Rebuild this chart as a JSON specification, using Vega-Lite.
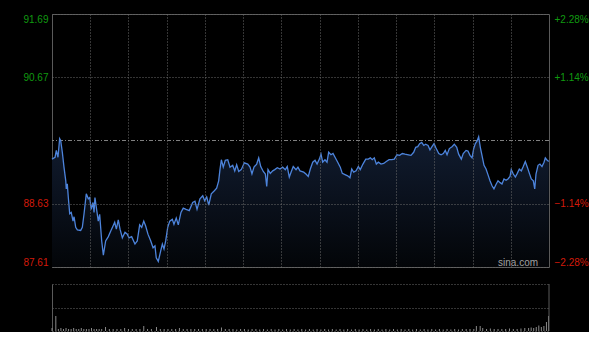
{
  "$schema": "https://vega.github.io/schema/vega-lite/v6.json",
  "background": "#000000",
  "padding": {"left": 11, "top": 13, "right": 0, "bottom": 0},
  "spacing": 14,
  "config": {
    "view": {"stroke": "#5a5a5a", "strokeWidth": 1},
    "axis": {"labelFont": "Liberation Sans", "labelFontSize": 10}
  },
  "datasets": {
    "price": [
      {"m":0,"p":89.35},{"m":2.4,"p":89.38},{"m":3.4,"p":89.49},{"m":4.7,"p":89.38},{"m":6.0,"p":89.68},{"m":6.8,"p":89.65},{"m":8.1,"p":89.46},{"m":9.4,"p":89.22},{"m":10.8,"p":89.0},{"m":11.2,"p":88.87},{"m":12.0,"p":88.95},{"m":12.8,"p":88.73},{"m":13.9,"p":88.47},{"m":15.1,"p":88.49},{"m":16.5,"p":88.35},{"m":17.3,"p":88.42},{"m":18.6,"p":88.25},{"m":19.9,"p":88.21},{"m":22.5,"p":88.2},{"m":23.8,"p":88.25},{"m":25.1,"p":88.46},{"m":26.9,"p":88.79},{"m":28.5,"p":88.71},{"m":29.6,"p":88.73},{"m":30.8,"p":88.54},{"m":32.2,"p":88.65},{"m":33.0,"p":88.49},{"m":33.7,"p":88.73},{"m":34.8,"p":88.57},{"m":36.3,"p":88.35},{"m":37.4,"p":88.46},{"m":39.0,"p":88.03},{"m":40.3,"p":87.8},{"m":42.1,"p":88.03},{"m":44.2,"p":88.1},{"m":46.1,"p":88.19},{"m":47.9,"p":88.27},{"m":49.2,"p":88.33},{"m":50.5,"p":88.22},{"m":52.0,"p":88.37},{"m":53.4,"p":88.22},{"m":55.2,"p":88.08},{"m":57.3,"p":88.17},{"m":59.1,"p":88.14},{"m":60.4,"p":88.08},{"m":62.5,"p":88.1},{"m":65.1,"p":87.98},{"m":66.9,"p":88.03},{"m":68.8,"p":88.29},{"m":70.4,"p":88.25},{"m":72.0,"p":88.35},{"m":73.5,"p":88.27},{"m":75.3,"p":88.14},{"m":77.5,"p":88.03},{"m":79.3,"p":87.92},{"m":80.8,"p":87.95},{"m":81.8,"p":87.76},{"m":83.4,"p":87.7},{"m":85.3,"p":87.87},{"m":86.6,"p":87.98},{"m":87.9,"p":87.9},{"m":89.2,"p":88.03},{"m":90.8,"p":88.25},{"m":92.4,"p":88.35},{"m":94.4,"p":88.38},{"m":95.7,"p":88.3},{"m":97.5,"p":88.4},{"m":99.1,"p":88.29},
      {"m":101.2,"p":88.49},{"m":103.0,"p":88.56},{"m":105.2,"p":88.54},{"m":107.7,"p":88.52},{"m":110.4,"p":88.65},{"m":112.2,"p":88.67},{"m":113.8,"p":88.54},{"m":116.1,"p":88.71},{"m":118.3,"p":88.76},{"m":119.8,"p":88.68},{"m":121.4,"p":88.74},{"m":123.0,"p":88.61},{"m":125.0,"p":88.79},{"m":127.4,"p":88.84},{"m":129.2,"p":88.88},{"m":130.8,"p":89.0},{"m":131.8,"p":89.18},{"m":132.9,"p":89.34},{"m":134.4,"p":89.22},{"m":136.0,"p":89.33},{"m":137.9,"p":89.34},{"m":139.7,"p":89.22},{"m":141.8,"p":89.25},{"m":143.4,"p":89.16},{"m":144.9,"p":89.26},{"m":146.5,"p":89.15},{"m":148.5,"p":89.18},{"m":150.9,"p":89.29},{"m":153.6,"p":89.27},{"m":155.4,"p":89.22},{"m":156.9,"p":89.11},{"m":158.5,"p":89.22},{"m":160.6,"p":89.27},{"m":162.2,"p":89.37},{"m":163.8,"p":89.23},{"m":165.8,"p":89.15},{"m":167.4,"p":89.11},{"m":168.5,"p":88.91},{"m":169.5,"p":89.18},{"m":171.3,"p":89.12},{"m":173.2,"p":89.16},{"m":174.8,"p":89.18},{"m":176.8,"p":89.21},{"m":178.9,"p":89.19},{"m":181.0,"p":89.22},{"m":183.1,"p":89.18},{"m":184.6,"p":89.23},{"m":186.2,"p":89.06},{"m":187.8,"p":89.15},{"m":189.3,"p":89.23},{"m":191.5,"p":89.18},{"m":193.0,"p":89.22},{"m":194.6,"p":89.16},
      {"m":197.5,"p":89.14},{"m":199.3,"p":89.11},{"m":201.1,"p":89.07},{"m":202.7,"p":89.19},{"m":204.6,"p":89.3},{"m":206.4,"p":89.33},{"m":208.0,"p":89.27},{"m":209.8,"p":89.35},{"m":211.1,"p":89.43},{"m":212.4,"p":89.3},{"m":214.2,"p":89.34},{"m":215.8,"p":89.3},{"m":217.1,"p":89.46},{"m":218.9,"p":89.42},{"m":220.5,"p":89.44},{"m":222.1,"p":89.38},{"m":224.2,"p":89.3},{"m":226.2,"p":89.22},{"m":227.8,"p":89.12},{"m":229.9,"p":89.1},{"m":232.0,"p":89.08},{"m":233.8,"p":89.05},{"m":235.2,"p":89.19},{"m":236.7,"p":89.14},{"m":238.6,"p":89.16},{"m":240.4,"p":89.23},{"m":241.9,"p":89.18},{"m":244.0,"p":89.27},{"m":246.2,"p":89.35},{"m":248.2,"p":89.35},{"m":249.8,"p":89.37},{"m":251.3,"p":89.34},{"m":252.9,"p":89.37},{"m":254.5,"p":89.27},{"m":256.1,"p":89.3},{"m":258.2,"p":89.27},{"m":260.3,"p":89.28},{"m":262.3,"p":89.31},{"m":264.5,"p":89.34},{"m":266.6,"p":89.34},{"m":268.6,"p":89.35},{"m":270.7,"p":89.42},{"m":272.8,"p":89.41},{"m":274.9,"p":89.44},{"m":277.0,"p":89.43},{"m":279.6,"p":89.42},{"m":281.7,"p":89.41},{"m":283.8,"p":89.46},{"m":285.4,"p":89.54},{"m":287.0,"p":89.55},{"m":288.5,"p":89.6},{"m":290.1,"p":89.62},{"m":291.7,"p":89.57},{"m":293.2,"p":89.59},
      {"m":295.1,"p":89.57},{"m":296.6,"p":89.5},{"m":298.2,"p":89.55},{"m":299.8,"p":89.6},{"m":301.3,"p":89.53},{"m":303.5,"p":89.44},{"m":305.3,"p":89.42},{"m":307.1,"p":89.44},{"m":308.6,"p":89.49},{"m":310.0,"p":89.42},{"m":311.8,"p":89.52},{"m":313.9,"p":89.55},{"m":315.7,"p":89.59},{"m":317.6,"p":89.54},{"m":319.1,"p":89.43},{"m":321.2,"p":89.35},{"m":322.7,"p":89.44},{"m":324.9,"p":89.49},{"m":326.4,"p":89.48},{"m":328.0,"p":89.41},{"m":329.6,"p":89.37},{"m":330.9,"p":89.52},{"m":332.2,"p":89.6},{"m":333.5,"p":89.64},{"m":334.8,"p":89.71},{"m":336.1,"p":89.54},{"m":337.4,"p":89.41},{"m":339.0,"p":89.25},{"m":340.6,"p":89.19},{"m":342.1,"p":89.1},{"m":343.7,"p":89.0},{"m":345.3,"p":88.92},{"m":346.8,"p":88.87},{"m":348.4,"p":88.94},{"m":350.0,"p":89.0},{"m":351.6,"p":88.97},{"m":353.1,"p":88.95},{"m":354.7,"p":89.03},{"m":356.3,"p":89.01},{"m":357.8,"p":89.03},{"m":359.4,"p":89.07},{"m":360.4,"p":89.18},{"m":362.0,"p":89.11},{"m":363.6,"p":89.06},{"m":365.1,"p":89.12},{"m":366.7,"p":89.19},{"m":368.3,"p":89.16},{"m":369.8,"p":89.23},{"m":371.4,"p":89.31},{"m":373.0,"p":89.22},{"m":374.6,"p":89.12},{"m":376.1,"p":89.03},{"m":377.7,"p":89.0},{"m":378.8,"p":88.87},{"m":379.8,"p":89.11},{"m":381.4,"p":89.25},{"m":382.9,"p":89.27},{"m":384.5,"p":89.23},{"m":386.1,"p":89.3},{"m":387.1,"p":89.37},{"m":388.2,"p":89.34},{"m":389.8,"p":89.31}
    ],
    "volume": [
      {"m":0,"v":3},{"m":3,"v":15},{"m":5,"v":2},{"m":7,"v":3},{"m":9,"v":2},{"m":11,"v":3},{"m":13,"v":2},{"m":15,"v":2},{"m":17,"v":3},{"m":19,"v":2},{"m":21,"v":2},{"m":23,"v":3},{"m":25,"v":2},{"m":27,"v":2},{"m":29,"v":2},{"m":31,"v":3},{"m":33,"v":2},{"m":35,"v":2},{"m":37,"v":2},{"m":39,"v":2},{"m":42,"v":4},{"m":45,"v":2},{"m":48,"v":2},{"m":51,"v":2},{"m":54,"v":2},{"m":57,"v":3},{"m":60,"v":2},{"m":63,"v":2},{"m":66,"v":2},{"m":69,"v":2},{"m":72,"v":5},{"m":75,"v":2},{"m":78,"v":2},{"m":82,"v":4},{"m":85,"v":2},{"m":88,"v":2},{"m":91,"v":2},{"m":94,"v":2},{"m":97,"v":2},{"m":100,"v":3},{"m":103,"v":2},{"m":106,"v":2},{"m":109,"v":2},{"m":112,"v":2},{"m":115,"v":2},{"m":118,"v":2},{"m":121,"v":2},{"m":124,"v":2},{"m":127,"v":2},{"m":130,"v":2},{"m":133,"v":3.5},{"m":136,"v":2},{"m":139,"v":2},{"m":142,"v":2},{"m":145,"v":1.5},{"m":148,"v":2},{"m":151,"v":2},{"m":154,"v":1.5},{"m":157,"v":2},{"m":160,"v":2},{"m":163,"v":1.5},{"m":166,"v":2},{"m":169,"v":1.5},{"m":172,"v":2},{"m":175,"v":1.5},{"m":178,"v":2},{"m":181,"v":1.5},{"m":184,"v":2},{"m":187,"v":1.5},{"m":190,"v":2},{"m":193,"v":1.5},{"m":196,"v":2},{"m":199,"v":1.5},{"m":202,"v":2},{"m":205,"v":1.5},{"m":208,"v":2},{"m":211,"v":1.5},{"m":214,"v":2},{"m":217,"v":1.5},{"m":220,"v":2},{"m":223,"v":1.5},{"m":226,"v":2},{"m":229,"v":1.5},{"m":232,"v":2},{"m":235,"v":1.5},{"m":238,"v":2},{"m":241,"v":1.5},{"m":244,"v":2},{"m":247,"v":1.5},{"m":250,"v":2},{"m":253,"v":1.5},{"m":256,"v":2},{"m":259,"v":1.5},{"m":262,"v":2},{"m":265,"v":1.5},{"m":268,"v":2},{"m":271,"v":1.5},{"m":274,"v":2},{"m":277,"v":1.5},{"m":280,"v":2},{"m":283,"v":1.5},{"m":286,"v":2},{"m":289,"v":1.5},{"m":292,"v":2},{"m":295,"v":1.5},{"m":298,"v":2},{"m":301,"v":1.5},{"m":304,"v":2},{"m":307,"v":1.5},{"m":310,"v":2},{"m":313,"v":1.5},{"m":316,"v":2},{"m":319,"v":1.5},{"m":322,"v":2},{"m":325,"v":2},{"m":328,"v":2},{"m":331,"v":2},{"m":333,"v":5},{"m":336,"v":5},{"m":338,"v":3},{"m":341,"v":2},{"m":344,"v":2.5},{"m":347,"v":2},{"m":350,"v":2},{"m":353,"v":2},{"m":356,"v":2},{"m":359,"v":2.5},{"m":362,"v":2},{"m":365,"v":2},{"m":368,"v":2.5},{"m":371,"v":3},{"m":374,"v":3},{"m":376,"v":3.5},{"m":378,"v":3},{"m":380,"v":4},{"m":382,"v":5.5},{"m":384,"v":4},{"m":386,"v":5},{"m":388,"v":9},{"m":389.6,"v":15}
    ],
    "marks": [{"label": "sina.com", "m": 381.4, "p": 87.61}]
  },
  "vconcat": [
    {
      "width": 497,
      "height": 253,
      "resolve": {"axis": {"y": "independent"}},
      "layer": [
        {
          "data": {"name": "price"},
          "mark": {"type": "area", "color": {"x1": 0, "y1": 0, "x2": 0, "y2": 1, "gradient": "linear", "stops": [{"offset": 0, "color": "#111c30"}, {"offset": 1, "color": "#030508"}]}},
          "encoding": {
            "x": {"field": "m", "type": "quantitative", "scale": {"domain": [0, 390], "nice": false},
              "axis": {"values": [30, 60, 90, 120, 150, 180, 210, 240, 270, 300, 330, 360], "labels": false, "ticks": false, "domain": false, "title": null, "grid": true, "gridColor": "#6a6a6a", "gridDash": [1, 2], "minExtent": 0, "maxExtent": 0, "zindex": 1}},
            "y": {"field": "p", "type": "quantitative", "scale": {"domain": [87.61, 91.69], "nice": false, "zero": false},
              "axis": {"orient": "left", "values": [87.61, 88.63, 90.67, 91.69], "labelExpr": "format(datum.value, '.2f')", "ticks": false, "domain": false, "title": null, "labelPadding": 4, "labelFlush": true, "minExtent": 40, "maxExtent": 40, "grid": true, "gridColor": "#6a6a6a", "gridDash": [1, 2], "zindex": 1,
                "labelColor": {"condition": {"test": "datum.value > 89.65", "value": "#109a10"}, "value": "#d41a0a"}}},
            "y2": {"datum": 87.61}
          }
        },
        {
          "data": {"values": [{"p": 89.65}]},
          "mark": {"type": "rule", "color": "#808080", "strokeDash": [4, 2, 1, 2], "strokeWidth": 1},
          "encoding": {"y": {"field": "p", "type": "quantitative", "axis": null}}
        },
        {
          "data": {"name": "price"},
          "mark": {"type": "line", "color": "#4d84dc", "strokeWidth": 1.3},
          "encoding": {
            "x": {"field": "m", "type": "quantitative"},
            "y": {"field": "p", "type": "quantitative",
              "axis": {"orient": "right", "values": [87.61, 88.63, 90.67, 91.69], "labelExpr": "format((datum.value - 89.65) / 89.65 * 100, '+.2f') + '%'", "ticks": false, "domain": false, "grid": false, "title": null, "labelPadding": 5, "labelFlush": true,
                "labelColor": {"condition": {"test": "datum.value > 89.65", "value": "#109a10"}, "value": "#d41a0a"}}}
          }
        },
        {
          "data": {"name": "marks"},
          "mark": {"type": "text", "align": "right", "baseline": "alphabetic", "dy": -1, "font": "Liberation Sans", "fontSize": 10, "color": "#a0a0a0"},
          "encoding": {
            "x": {"field": "m", "type": "quantitative"},
            "y": {"field": "p", "type": "quantitative", "axis": null},
            "text": {"field": "label"}
          }
        }
      ]
    },
    {
      "width": 497,
      "height": 47,
      "view": {"stroke": null},
      "layer": [
        {
          "data": {"name": "volume"},
          "mark": {"type": "rule", "color": "#8a8a8a", "strokeWidth": 1},
          "encoding": {
            "x": {"field": "m", "type": "quantitative", "scale": {"domain": [0, 390], "nice": false}, "axis": null},
            "y": {"field": "v", "type": "quantitative", "scale": {"domain": [0, 47], "nice": false},
              "axis": {"values": [0, 23.5, 47], "labels": false, "ticks": false, "domain": true, "domainColor": "#5a5a5a", "title": null, "grid": true, "gridColor": "#6a6a6a", "gridDash": [1, 2], "minExtent": 40, "maxExtent": 40}},
            "y2": {"datum": 0}
          }
        },
        {
          "data": {"values": [{"m": 390}]},
          "mark": {"type": "rule", "color": "#5a5a5a", "strokeWidth": 1},
          "encoding": {"x": {"field": "m", "type": "quantitative"}}
        }
      ]
    }
  ]
}
